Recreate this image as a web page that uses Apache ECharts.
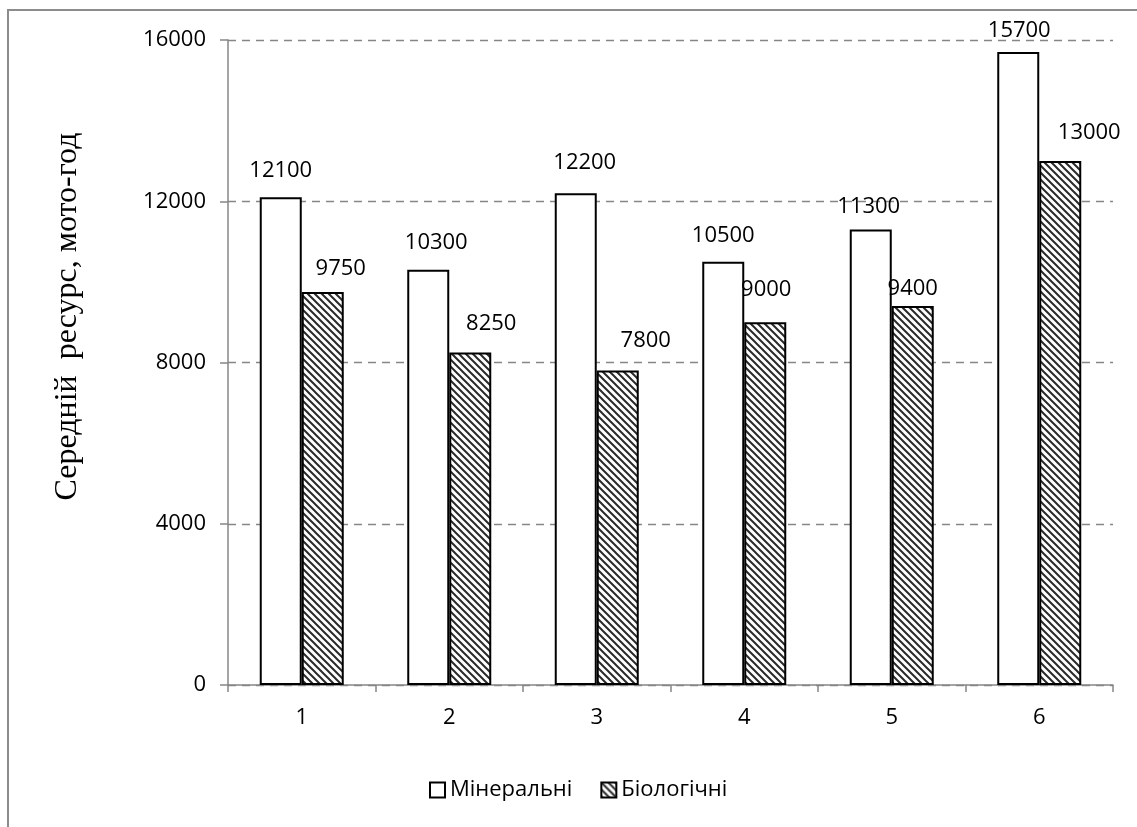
<!DOCTYPE html>
<html>
<head>
<meta charset="utf-8">
<script src="https://cdn.jsdelivr.net/npm/echarts@6/dist/echarts.min.js"></script>
<style>
  html, body { margin: 0; padding: 0; background: #fff; }
  #chart { width: 1137px; height: 827px; }
</style>
</head>
<body>
<div id="chart"></div>
<script>
// Variants 1..6 and mean service life for the two oil groups
const categories = ['1', '2', '3', '4', '5', '6'];
const mineralValues = [12100, 10300, 12200, 10500, 11300, 15700];
const bioValues = [9750, 8250, 7800, 9000, 9400, 13000];
const yTicks = [0, 4000, 8000, 12000, 16000];

// Nudges of the value labels (px)
const mineralLabelDx = [0, 8, 9, 0, -2, 1];
const mineralLabelDy = [-3, -4, -7, -3, 0, 2];
const bioLabelDx = [18, 21, 28, 1, 0, 29];
const bioLabelDy = [0, -6, -7, -9, 6, -5];

const labelFont = '"Open Sans", "Noto Sans", sans-serif';
const fontSize = 22;

// Diagonal hatch tile for the second series
function hatchTile() {
  const s = 7;
  const c = document.createElement('canvas');
  c.width = s; c.height = s;
  const g = c.getContext('2d');
  g.fillStyle = '#ffffff';
  g.fillRect(0, 0, s, s);
  g.strokeStyle = '#2a2a2a';
  g.lineWidth = 2;
  g.beginPath();
  g.moveTo(-2, -2); g.lineTo(s + 2, s + 2);
  g.moveTo(-2, s - 2); g.lineTo(2, s + 2);
  g.moveTo(s - 2, -2); g.lineTo(s + 2, 2);
  g.stroke();
  return c;
}

function labelled(values, dx, dy) {
  return values.map((v, i) => ({ value: v, label: { offset: [dx[i], dy[i]] } }));
}

const chart = echarts.init(document.getElementById('chart'), null, { renderer: 'canvas' });

const option = {
  backgroundColor: '#ffffff',
  animation: false,
  graphic: [{
    type: 'rect',
    shape: { x: 8, y: 10, width: 1300, height: 1000 },
    style: { fill: 'none', stroke: '#8c8c8c', lineWidth: 2 },
    silent: true
  }],
  grid: { left: 228, right: 24, top: 40, bottom: 142 },
  legend: {
    bottom: 21,
    left: 424,
    itemWidth: 15,
    itemHeight: 15,
    itemGap: 28,
    icon: 'rect',
    textStyle: { fontFamily: labelFont, fontSize: fontSize, color: '#000' },
    data: ['Мінеральні', 'Біологічні']
  },
  xAxis: {
    type: 'category',
    data: categories,
    axisLine: { lineStyle: { color: '#868686', width: 1.5 } },
    axisTick: { show: true, length: 7, lineStyle: { color: '#868686', width: 1.5 } },
    axisLabel: { fontFamily: labelFont, fontSize: fontSize, color: '#000', margin: 22 }
  },
  yAxis: {
    type: 'value',
    min: yTicks[0],
    max: yTicks[yTicks.length - 1],
    interval: yTicks[1] - yTicks[0],
    name: 'Середній  ресурс, мото-год',
    nameLocation: 'middle',
    nameGap: 144,
    nameTextStyle: {
      fontFamily: '"Liberation Serif", "DejaVu Serif", serif',
      fontSize: 32,
      color: '#000',
      padding: [0, 0, 0, 92]
    },
    axisLine: { show: true, lineStyle: { color: '#868686', width: 1.5 } },
    axisTick: { show: true, length: 8, lineStyle: { color: '#868686', width: 1.5 } },
    axisLabel: {
      fontFamily: labelFont, fontSize: fontSize, color: '#000', margin: 22,
      formatter: (v) => String(v)
    },
    splitLine: { show: true, lineStyle: { color: '#868686', width: 1.3, type: [8, 6] } }
  },
  series: [
    {
      name: 'Мінеральні',
      type: 'bar',
      data: labelled(mineralValues, mineralLabelDx, mineralLabelDy),
      barWidth: 42,
      barGap: '0%',
      itemStyle: { color: '#ffffff', borderColor: '#000', borderWidth: 2 },
      label: { show: true, position: 'top', distance: 12, fontFamily: labelFont, fontSize: fontSize, color: '#000' }
    },
    {
      name: 'Біологічні',
      type: 'bar',
      data: labelled(bioValues, bioLabelDx, bioLabelDy),
      barWidth: 42,
      barGap: '0%',
      itemStyle: { color: { image: hatchTile(), repeat: 'repeat' }, borderColor: '#000', borderWidth: 2 },
      label: { show: true, position: 'top', distance: 12, fontFamily: labelFont, fontSize: fontSize, color: '#000' }
    }
  ]
};

chart.setOption(option);
</script>
</body>
</html>
